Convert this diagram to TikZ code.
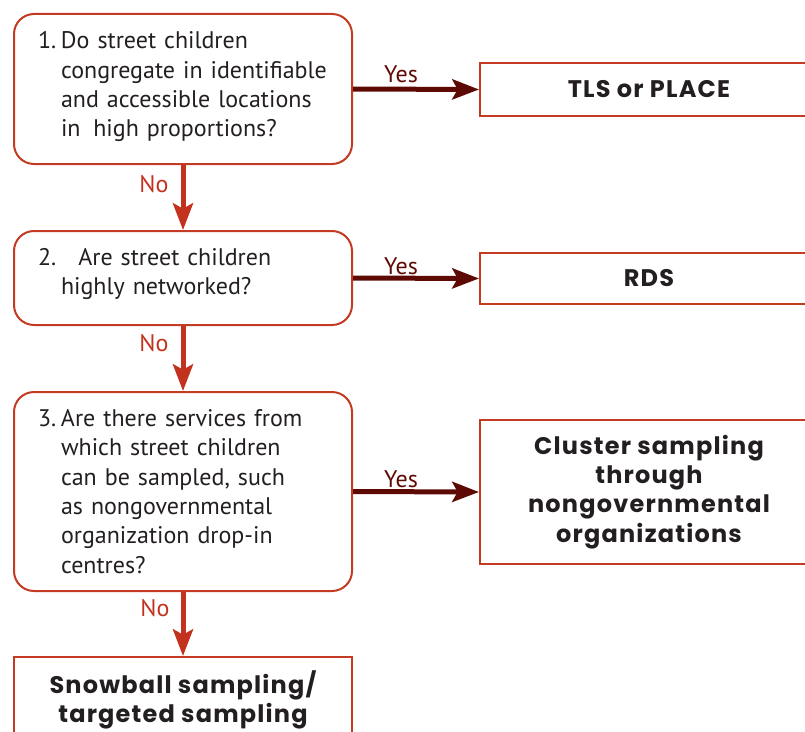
\documentclass[tikz,border=0pt]{standalone}
\usepackage{fontspec}
\setmainfont{PT Sans}
\newfontfamily\methodfont{Poppins}[LetterSpace=5]
\usetikzlibrary{arrows.meta}

\definecolor{boxred}{HTML}{C23B22}
\definecolor{yesred}{HTML}{5E0A04}
\definecolor{nored}{HTML}{C2321E}
\definecolor{inkgray}{HTML}{231F20}

% hanging layout for the numbered questions
\newcommand\qnum[1]{\makebox[17.25pt][l]{#1}}
\newcommand\qpad{\hspace*{17.25pt}}

\begin{document}
\begin{tikzpicture}[x=0.75pt,y=-0.75pt,
  txt/.style={font=\fontsize{18pt}{22pt}\selectfont, text=inkgray},
  question/.style={txt, draw=boxred, line width=1.5pt, rounded corners=15pt,
    minimum width=253.5pt, text width=217.5pt, align=left, inner sep=0pt},
  method/.style={txt, font=\methodfont\fontsize{18pt}{22pt}\selectfont\bfseries,
    draw=boxred, line width=1.5pt, minimum width=253.5pt, align=center, inner sep=0pt},
  yesarrow/.style={draw=yesred, line width=3.75pt,
    -{Stealth[length=20pt,width=15pt,inset=4pt]}},
  noarrow/.style={draw=nored, line width=3.75pt,
    -{Stealth[length=20pt,width=15pt,inset=4pt]}},
  yeslabel/.style={txt, text=yesred, inner sep=0pt},
  nolabel/.style={txt, text=nored, inner sep=0pt}]
\useasboundingbox (0,0) rectangle (805,731);
\clip (0,0) rectangle (805,731);

% questions
\node[question, minimum height=112.5pt] (q1) at (183,89)
  {\qnum{1.}Do street children\\
   \qpad congregate in identifiable\\
   \qpad and accessible locations\\
   \qpad in\hspace{0.2em} high proportions?\par\vspace*{3pt}};
\node[question, minimum height=70.5pt] (q2) at (183,278)
  {\qnum{2.}\hspace{13pt}Are street children\\
   \qpad highly networked?\par\vspace*{6pt}};
\node[question, minimum height=149.25pt] (q3) at (183,491.5)
  {\qnum{3.}Are there services from\\
   \qpad which street children\\
   \qpad can be sampled, such\\
   \qpad as nongovernmental\\
   \qpad organization drop-in\\
   \qpad centres?};

% sampling methods
\node[method, minimum height=39.75pt] (m1) at (649,89.5) {TLS or PLACE};
\node[method, minimum height=38.25pt] (m2) at (649,278.5) {RDS};
\node[method, minimum height=108pt] (m3) at (649,492)
  {Cluster sampling\\through\\nongovernmental\\organizations};
\node[method, minimum height=64.5pt] (m4) at (183,700)
  {Snowball sampling/\\targeted sampling};

% yes branches
\draw[yesarrow] (q1.east) -- (m1.west);
\draw[yesarrow] (q2.east) -- (m2.west);
\draw[yesarrow] (q3.east) -- (m3.west);
\node[yeslabel] (y1) at (401,74) {Yes};
\node[yeslabel] (y2) at (401,266) {Yes};
\node[yeslabel] (y3) at (401,479) {Yes};

% no branches
\draw[noarrow] (q1.south) -- (q2.north);
\draw[noarrow] (q2.south) -- (q3.north);
\draw[noarrow] (q3.south) -- (m4.north);
\node[nolabel] (n1) at (154,184) {No};
\node[nolabel] (n2) at (154,343) {No};
\node[nolabel] (n3) at (155,608) {No};
\end{tikzpicture}
\end{document}
